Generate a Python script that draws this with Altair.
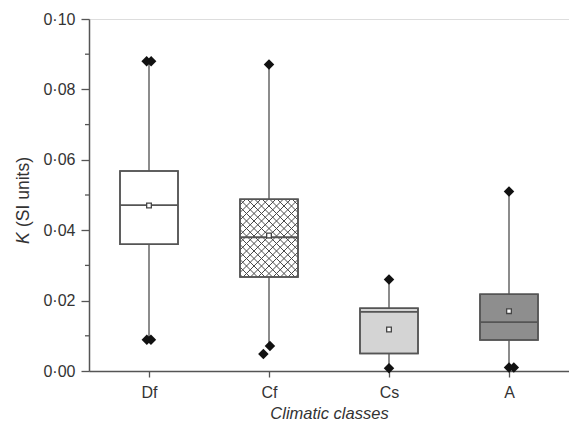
import altair as alt
import pandas as pd
import numpy as np

# ---- data ----
classes = ["Df", "Cf", "Cs", "A"]
positions = [1, 2, 3, 4]
whisker_low = [0.009, 0.0071, 0.0008, 0.001]
q1 = [0.036, 0.0267, 0.005, 0.0088]
median = [0.0471, 0.038, 0.0168, 0.0139]
q3 = [0.0568, 0.0488, 0.0178, 0.0218]
whisker_high = [0.088, 0.0871, 0.026, 0.051]
means = [0.047, 0.0385, 0.0118, 0.017]
fills = ["#ffffff", "#ffffff", "#d4d4d4", "#8e8e8e"]
hatched = [False, True, False, False]

out_pos = [1, 1, 1, 1, 2, 2, 2, 3, 3, 4, 4, 4]
out_shift = [-0.02, 0.018, -0.018, 0.016, 0.0, 0.008, -0.047, 0.0, 0.0, 0.0, 0.0, 0.04]
out_value = [0.088, 0.088, 0.0089, 0.0089, 0.0871, 0.0071, 0.0048, 0.026, 0.0008, 0.051, 0.001, 0.001]

y_ticks = [0.0, 0.02, 0.04, 0.06, 0.08, 0.10]
y_minor = [0.01, 0.03, 0.05, 0.07, 0.09]
title_parts = ["K", "(SI units)"]

# ---- geometry ----
W, H = 480, 352
X_DOMAIN = [0.5, 4.5]
Y_DOMAIN = [0.0, 0.1]
px_x = W / (X_DOMAIN[1] - X_DOMAIN[0])
px_y = H / (Y_DOMAIN[1] - Y_DOMAIN[0])
half = 29 / px_x

box = pd.DataFrame({
    "cls": classes, "pos": positions, "lo": whisker_low, "q1": q1,
    "med": median, "q3": q3, "hi": whisker_high, "mean": means, "fill": fills,
})
box["left"] = box["pos"] - half
box["right"] = box["pos"] + half

out = pd.DataFrame({"x": np.array(out_pos) + np.array(out_shift), "v": out_value})

# crosshatch segments for hatched boxes (computed from box bounds)
seg_rows = []
spacing = 7.5
for i, h in enumerate(hatched):
    if not h:
        continue
    x0, x1 = -29.0, 29.0
    y0, y1 = q1[i] * px_y, q3[i] * px_y
    segs = []
    for c in np.arange(np.floor((y0 - x1 - 60) / spacing) * spacing, y1 - x0 + 60, spacing):
        a, b = max(x0, y0 - c), min(x1, y1 - c)
        if b > a:
            segs.append((a, a + c, b, b + c))
    for c in np.arange(np.floor((y0 + x0 - 60) / spacing) * spacing, y1 + x1 + 60, spacing):
        a, b = max(x0, c - y1), min(x1, c - y0)
        if b > a:
            segs.append((a, c - a, b, c - b))
    for s in segs:
        seg_rows.append({"x": positions[i] + s[0] / px_x, "y": s[1] / px_y,
                         "x2": positions[i] + s[2] / px_x, "y2": s[3] / px_y})
hatch = pd.DataFrame(seg_rows)

FONT = "Liberation Sans"
LINE = "#555555"
TXT = "#333333"

x_axis = alt.Axis(
    values=positions,
    labelExpr="['Df','Cf','Cs','A'][datum.value - 1]",
    title="Climatic classes", titleFontStyle="italic", titleFontWeight="normal",
    titleFontSize=16.5, titleColor=TXT, titlePadding=5,
    labelFontSize=16, labelColor=TXT, labelPadding=7,
    tickSize=6, tickColor=LINE, tickWidth=1.3, domainColor=LINE, domainWidth=1.5,
    grid=False, labelFont=FONT, titleFont=FONT,
)
y_axis = alt.Axis(
    values=y_ticks, format=".2f",
    labelExpr="replace(datum.label, '.', '·')",
    title=None,
    labelFontSize=16, labelColor=TXT, labelPadding=6,
    tickSize=8, tickColor=LINE, tickWidth=1.3, domainColor=LINE, domainWidth=1.5,
    grid=False, labelFont=FONT,
)
xs = alt.Scale(domain=X_DOMAIN, nice=False, zero=False)
ys = alt.Scale(domain=Y_DOMAIN, nice=False, zero=False)


def X(f):
    return alt.X(f, type="quantitative", scale=xs, axis=x_axis)


def Y(f):
    return alt.Y(f, type="quantitative", scale=ys, axis=y_axis)


base = alt.Chart(box)

whiskers = base.mark_rule(color="#666666", strokeWidth=1.5).encode(
    x=X("pos"), y=Y("lo"), y2="hi")

boxes = base.mark_rect(stroke=LINE, strokeWidth=1.5).encode(
    x=X("left"), x2="right", y=Y("q1"), y2="q3",
    fill=alt.Fill("fill:N", scale=None))

hatch_layer = alt.Chart(hatch).mark_rule(color="#4a4a4a", strokeWidth=1.0).encode(
    x=X("x"), x2="x2", y=Y("y"), y2="y2")

outline = base.mark_rect(fill=None, stroke=LINE, strokeWidth=1.5).encode(
    x=X("left"), x2="right", y=Y("q1"), y2="q3")

medians = base.mark_rule(color=LINE, strokeWidth=1.8).encode(
    x=X("left"), x2="right", y=Y("med"))

mean_pts = base.mark_point(shape="square", size=22, filled=True, fill="#ffffff",
                           stroke="#444444", strokeWidth=1.3, opacity=1).encode(
    x=X("pos"), y=Y("mean"))

outliers = alt.Chart(out).mark_point(shape="diamond", size=110, filled=True,
                                     color="#111111", opacity=1).encode(
    x=X("x"), y=Y("v"))

minor = alt.Chart(pd.DataFrame({"v": y_minor})).mark_rule(
    color=LINE, strokeWidth=1.3).encode(
    x=alt.value(-4), x2=alt.value(0), y=Y("v"))

t_k = alt.Chart(pd.DataFrame({"t": [title_parts[0]]})).mark_text(
    angle=270, align="left", baseline="middle", fontSize=17.5, font=FONT,
    fontStyle="italic", color=TXT).encode(
    x=alt.value(-65), y=alt.value(225), text="t:N")
t_rest = alt.Chart(pd.DataFrame({"t": [title_parts[1]]})).mark_text(
    angle=270, align="left", baseline="middle", fontSize=17.5, font=FONT,
    color=TXT).encode(
    x=alt.value(-65), y=alt.value(208), text="t:N")

chart = alt.layer(
    whiskers, boxes, hatch_layer, outline, medians, mean_pts, outliers, minor, t_k, t_rest
).properties(
    width=W, height=H,
    autosize=alt.AutoSizeParams(type="none"),
    padding={"left": 89, "top": 19, "right": 0, "bottom": 60},
).configure_view(stroke=None).configure(background="white")

chart.save("out.html", embed_options={"renderer": "svg", "actions": False})
